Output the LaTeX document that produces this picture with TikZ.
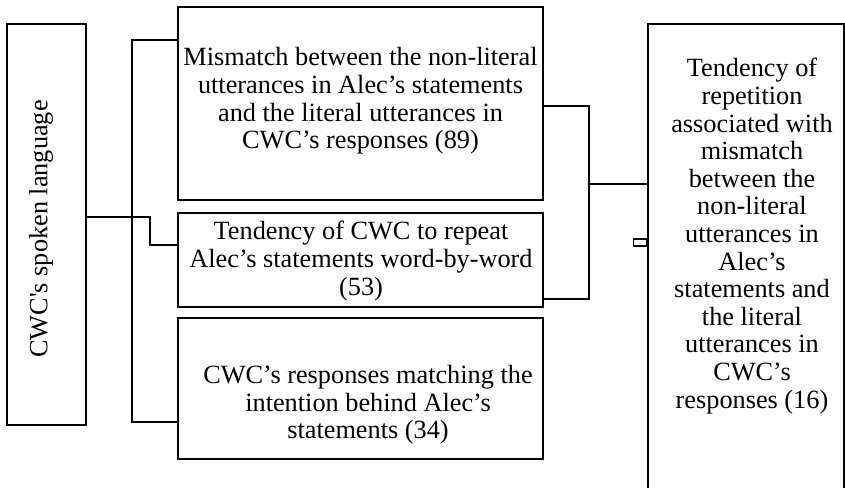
\documentclass[tikz,border=0pt]{standalone}
\usepackage{fontspec}
\setmainfont{Liberation Serif}
\begin{document}
\begin{tikzpicture}[x=1pt,y=-1pt,
  box/.style={draw=black, line width=2pt, inner sep=0pt},
  txt/.style={align=center, inner sep=0pt, font=\fontsize{26.3}{27.6}\selectfont},
  conn/.style={draw=black, line width=1.6pt}]
\clip (0,0) rectangle (845,487);
% boxes
\node[box, minimum width=79, minimum height=401] (left) at (46.5,224.5) {};
\node[box, minimum width=365, minimum height=193] (b1) at (360.5,103.5) {};
\node[box, minimum width=365, minimum height=94] (b2) at (360.5,260) {};
\node[box, minimum width=365, minimum height=141] (b3) at (360.5,388.5) {};
\node[box, minimum width=196, minimum height=490] (right) at (746,269) {};
% texts
\node[txt, rotate=90] (lt) at (41,229) {CWC\textquotesingle s spoken language};
\node[txt] (b1t) at (360.5,101) {Mismatch between the non-literal\\utterances in Alec’s statements\\and the literal utterances in\\CWC’s responses (89)};
\node[txt] (b2t) at (361,261) {Tendency of CWC to repeat\\Alec’s statements word-by-word\\(53)};
\node[txt] (b3t) at (368,405) {CWC’s responses matching the\\intention behind Alec’s\\statements (34)};
\node[txt] (rt) at (752,236) {Tendency of\\repetition\\associated with\\mismatch\\between the\\non-literal\\utterances in\\Alec’s\\statements and\\the literal\\utterances in\\CWC’s\\responses (16)};
% left connectors
\coordinate (la) at (left.east |- 0,217);
\coordinate (vtop) at (132,40);
\coordinate (vbot) at (132,422);
\draw[conn] (la) -- (150,217) -- (150,245) -- (b2.west |- 0,245);
\draw[conn] (b1.west |- vtop) -- (vtop) -- (vbot) -- (b3.west |- vbot);
% right connectors
\draw[conn] (b1.east |- 0,106) -- (589,106) -- (589,299) -- (b2.east |- 0,299);
\draw[conn] (589,184) -- (right.west |- 0,184);
\node[draw=black, line width=1.5pt, minimum width=13, minimum height=7, inner sep=0pt, anchor=east] (tab) at (right.west |- 0,242.5) {};
\end{tikzpicture}
\end{document}
